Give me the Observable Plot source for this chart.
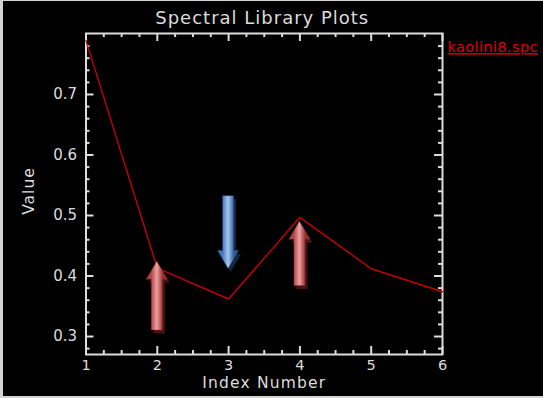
<!DOCTYPE html>
<html><head><meta charset="utf-8">
<script src="https://cdn.jsdelivr.net/npm/d3@7"></script>
<script src="https://cdn.jsdelivr.net/npm/@observablehq/plot@0.6"></script>
<style>
html,body{margin:0;padding:0;background:#d6d3ce;overflow:hidden;}
#chart{position:absolute;left:3px;top:1px;width:540px;height:395px;background:#000;}
</style></head><body><div id="chart"></div>
<script>
// ---- data ----
const titleText = "Spectral Library Plots";
const xLabel = "Index Number";
const yLabel = "Value";
const seriesName = "kaolini8.spc";
const indexNumbers = [1, 2, 3, 4, 5, 6];
const values = [0.789, 0.413, 0.362, 0.497, 0.412, 0.374];
const xTickLabels = [1, 2, 3, 4, 5, 6];
const yTickLabels = [0.3, 0.4, 0.5, 0.6, 0.7];
const xDomain = [1, 6];
const yDomain = [0.2703, 0.8008];
// annotation arrows (data units)
const arrowX = [2, 4, 3];
const arrowFrom = [0.310, 0.3835, 0.532];
const arrowTo = [0.4236, 0.4898, 0.4116];
const arrowKind = ["red", "red", "blue"];

// ---- layout ----
const W = 540, H = 395;
const mL = 82.5, mR = 101, mT = 32, mB = 42;
const iW = W - mL - mR, iH = H - mT - mB;
const fg = "#dcdcdc";
const font = "DejaVu Sans";

const table = indexNumbers.map((x, i) => ({x, v: values[i]}));
const xMinor = d3.range(4, 25).map(i => i / 4).filter(d => !Number.isInteger(d));
const yMinor = d3.range(14, 41).map(i => i / 50).filter(d => Math.abs(d * 10 - Math.round(d * 10)) > 1e-6);
const yMajor = yTickLabels;
const arrows = arrowX.map((x, i) => ({x, from: arrowFrom[i], to: arrowTo[i], kind: arrowKind[i]}));

const palettes = {
  red: {edge1: "#ad4242", mid: "#eea0a0", edge2: "#973030", shadow: "#561616"},
  blue: {edge1: "#3f74bb", mid: "#a6c6ee", edge2: "#2c5a98", shadow: "#182b48"}
};

function arrowMark(index, scales, channels, dimensions, context) {
  const g = d3.create("svg:g");
  const defs = g.append("defs");
  for (const k of Object.keys(palettes)) {
    const p = palettes[k];
    const gr = defs.append("linearGradient").attr("id", "grad-" + k)
      .attr("x1", 0).attr("x2", 1).attr("y1", 0).attr("y2", 0);
    gr.append("stop").attr("offset", "0.22").attr("stop-color", p.edge1);
    gr.append("stop").attr("offset", "0.5").attr("stop-color", p.mid);
    gr.append("stop").attr("offset", "0.78").attr("stop-color", p.edge2);
  }
  const sw = 5.5, hw = 10.5, hl = 18;
  for (const a of arrows) {
    const x = scales.x(a.x), yTail = scales.y(a.from), yTip = scales.y(a.to);
    const s = Math.sign(yTail - yTip);
    const hb = yTip + s * hl;
    const pts = [[x - sw, yTail], [x - sw, hb], [x - hw, hb], [x, yTip], [x + hw, hb], [x + sw, hb], [x + sw, yTail]];
    const p = palettes[a.kind];
    g.append("polygon")
      .attr("points", pts.map(([px, py]) => `${px + 2.5},${py + 3.5}`).join(" "))
      .attr("fill", p.shadow).attr("opacity", 0.85);
    g.append("polygon")
      .attr("points", pts.map(([px, py]) => `${px},${py}`).join(" "))
      .attr("fill", `url(#grad-${a.kind})`)
      .attr("stroke", p.edge2).attr("stroke-width", 0.6).attr("stroke-opacity", 0.6);
  }
  return g.node();
}

const plot = Plot.plot({
  width: W, height: H,
  marginLeft: mL, marginRight: mR, marginTop: mT, marginBottom: mB,
  style: {background: "#000", color: fg, fontFamily: font, fontSize: "15px", overflow: "visible"},
  x: {domain: xDomain},
  y: {domain: yDomain},
  marks: [
    Plot.axisX({ticks: xTickLabels, tickSize: 0, tickPadding: 5, tickFormat: d => String(d), label: null, fontSize: 14.5, fill: fg}),
    Plot.axisY({ticks: yTickLabels, tickSize: 0, tickPadding: 9, tickFormat: d => d.toFixed(1), label: null, fontSize: 15, fill: fg}),
    // inward ticks
    Plot.tickX(xTickLabels, {x: d => d, insetTop: iH - 8, stroke: fg, strokeWidth: 2}),
    Plot.tickX(xTickLabels, {x: d => d, insetBottom: iH - 8, stroke: fg, strokeWidth: 2}),
    Plot.tickX(xMinor, {x: d => d, insetTop: iH - 4, stroke: fg, strokeWidth: 2}),
    Plot.tickX(xMinor, {x: d => d, insetBottom: iH - 4, stroke: fg, strokeWidth: 2}),
    Plot.tickY(yMajor, {y: d => d, insetRight: iW - 8, stroke: fg, strokeWidth: 2}),
    Plot.tickY(yMajor, {y: d => d, insetLeft: iW - 8, stroke: fg, strokeWidth: 2}),
    Plot.tickY(yMinor, {y: d => d, insetRight: iW - 4, stroke: fg, strokeWidth: 2}),
    Plot.tickY(yMinor, {y: d => d, insetLeft: iW - 4, stroke: fg, strokeWidth: 2}),
    Plot.frame({stroke: fg, strokeWidth: 2}),
    Plot.line(table, {x: "x", y: "v", stroke: "#c80000", strokeWidth: 1.4}),
    arrowMark,
    Plot.text([titleText], {frameAnchor: "top", lineAnchor: "middle", textAnchor: "middle", dy: -15, dx: -2, fill: fg, fontSize: 18, className: "ttl"}),
    Plot.text([xLabel], {frameAnchor: "bottom", lineAnchor: "middle", textAnchor: "middle", dy: 29, fill: fg, fontSize: 15.5, className: "xlab"}),
    Plot.text([yLabel], {frameAnchor: "left", lineAnchor: "middle", textAnchor: "middle", dx: -57, dy: -3, rotate: -90, fill: fg, fontSize: 15.5, className: "ylab"}),
    Plot.text([seriesName], {frameAnchor: "top-right", lineAnchor: "middle", textAnchor: "start", dx: 5, dy: 14, fill: "#e00000", fontSize: 14.5, className: "lgd"})
  ]
});

const sel = d3.select(plot);
sel.selectAll("text").each(function() {
  const t = this.textContent;
  if (t === seriesName) d3.select(this).attr("text-decoration", "underline").style("letter-spacing", "0.4px");
  if (t === titleText) d3.select(this).style("letter-spacing", "1px");
  if (t === xLabel) d3.select(this).style("letter-spacing", "1.2px");
  if (t === yLabel) d3.select(this).style("letter-spacing", "1px");
});
document.getElementById("chart").appendChild(plot);
</script>
</body></html>
